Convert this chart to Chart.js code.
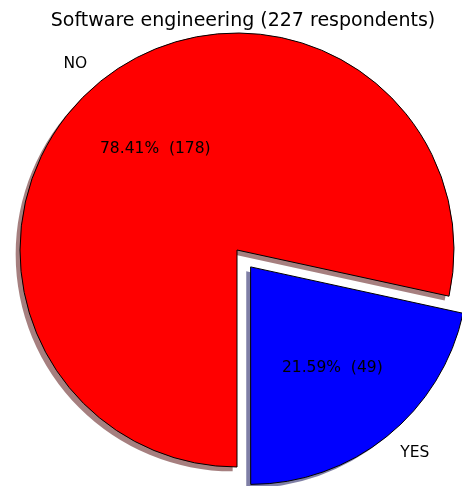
<!DOCTYPE html>
<html>
<head>
<meta charset="utf-8">
<title>Software engineering</title>
<script src="https://cdn.jsdelivr.net/npm/chart.js@4.4.0/dist/chart.umd.min.js"></script>
<style>
  html, body { margin: 0; padding: 0; background: #fff; }
  canvas { display: block; }
</style>
</head>
<body>
<canvas id="pieChart" width="462" height="486"></canvas>
<script>
'use strict';

// survey answers
const answers = ["NO", "YES"];
const respondents = [178, 49];
const chartTitle = "Software engineering (227 respondents)";

// styling
const sliceColors = ["#ff0000", "#0000ff"];
const shadowColors = ["rgba(77, 0, 0, 0.5)", "rgba(0, 0, 77, 0.5)"];
const explode = [0, 0.1];   // fraction of the radius
const pieRadius = 217;

const total = respondents.reduce(function (a, b) { return a + b; }, 0);


/**
 * centre of a slice once its offset is applied
 */

const sliceCenter = function (arc) {
  const mid = (arc.startAngle + arc.endAngle) / 2;
  const shift = (arc.options.offset || 0) / 4;   // ArcElement divides offset by 4
  return { x: arc.x + Math.cos(mid) * shift, y: arc.y + Math.sin(mid) * shift, mid: mid };
};


/**
 * drop shadow under each wedge
 */

const pieShadow = {
  id: "pieShadow",
  beforeDatasetsDraw(chart) {
    const ctx = chart.ctx;
    chart.getDatasetMeta(0).data.forEach(function (arc, i) {
      const c = sliceCenter(arc);
      const d = arc.outerRadius * 0.02;
      ctx.save();
      ctx.fillStyle = shadowColors[i];
      ctx.beginPath();
      ctx.moveTo(c.x - d, c.y + d);
      ctx.arc(c.x - d, c.y + d, arc.outerRadius, arc.startAngle, arc.endAngle);
      ctx.closePath();
      ctx.fill();
      ctx.restore();
    });
  }
};


/**
 * category labels outside, percentages inside
 */

const pieLabels = {
  id: "pieLabels",
  afterDatasetsDraw(chart) {
    const ctx = chart.ctx;
    chart.getDatasetMeta(0).data.forEach(function (arc, i) {
      const c = sliceCenter(arc);
      const r = arc.outerRadius;
      const cos = Math.cos(c.mid);
      const sin = Math.sin(c.mid);
      const value = respondents[i];
      const pct = (value / total * 100).toFixed(2) + "%  (" + value + ")";

      ctx.save();
      ctx.font = "15.5px 'DejaVu Sans'";
      ctx.fillStyle = "#000";
      ctx.textBaseline = "middle";
      ctx.textAlign = cos < 0 ? "right" : "left";
      ctx.fillText(answers[i], c.x + cos * r * 1.1, c.y + sin * r * 1.1);
      ctx.textAlign = "center";
      ctx.fillText(pct, c.x + cos * r * 0.6, c.y + sin * r * 0.6);
      ctx.restore();
    });
  },
  afterDraw(chart) {
    const ctx = chart.ctx;
    ctx.save();
    ctx.font = "19px 'DejaVu Sans'";
    ctx.fillStyle = "#000";
    ctx.textAlign = "center";
    ctx.textBaseline = "alphabetic";
    ctx.fillText(chartTitle, 243, 26);
    ctx.restore();
  }
};


const ctx = document.getElementById("pieChart").getContext("2d");
const pieChart = new Chart(ctx, {
  type: "pie",
  data: {
    labels: answers,
    datasets: [{
      data: respondents,
      backgroundColor: sliceColors,
      borderColor: "#000000",
      borderWidth: 1,
      offset: explode.map(function (e) { return e * pieRadius * 4; }),
      hoverOffset: 0,
      clip: false
    }]
  },
  options: {
    responsive: false,
    animation: false,
    rotation: 180,
    radius: pieRadius,
    layout: {
      padding: { top: 14, bottom: 0, left: 12, right: 0 }
    },
    plugins: {
      legend: { display: false },
      title: { display: false }
    }
  },
  plugins: [pieShadow, pieLabels]
});
</script>
</body>
</html>
